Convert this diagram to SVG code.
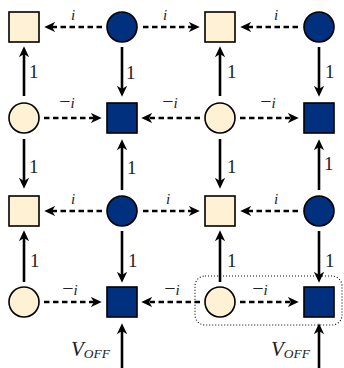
<svg xmlns="http://www.w3.org/2000/svg" width="344" height="368" viewBox="0 0 344 368">
<defs>
<marker id="ah" markerUnits="userSpaceOnUse" markerWidth="11" markerHeight="11" viewBox="0 0 10 10" refX="3" refY="5" orient="auto">
<path d="M0,0.3 L10,5 L0,9.7 L3,5 z" fill="#000"/>
</marker>
<style>
.lt{fill:#FEF1D4;stroke:#000;stroke-width:1.6}
.dk{fill:#00307E;stroke:#000;stroke-width:1.6}
.s{stroke:#000;stroke-width:2.6;fill:none;marker-end:url(#ah)}
.d{stroke:#000;stroke-width:2.3;fill:none;stroke-dasharray:5.5 3.5;marker-end:url(#ah)}
.one{font-family:"Liberation Serif",serif;font-size:19px;fill:#222}
.lab{font-family:"Liberation Serif",serif;font-size:15px;font-style:italic;fill:#222;text-anchor:middle}
.m{font-size:20px;font-style:normal}
.v{font-family:"Liberation Serif",serif;font-style:italic;fill:#222}
</style>
</defs>
<rect x="195" y="276" width="147" height="49" rx="10" fill="none" stroke="#000" stroke-width="1.1" stroke-dasharray="1 2"/>
<g id="connectors">
<line class="d" x1="102" y1="27" x2="52" y2="27"/>
<line class="d" x1="143" y1="27" x2="192" y2="27"/>
<line class="d" x1="298" y1="27" x2="248" y2="27"/>
<line class="d" x1="44" y1="118" x2="94" y2="118"/>
<line class="d" x1="200" y1="118" x2="149" y2="118"/>
<line class="d" x1="240" y1="118" x2="291" y2="118"/>
<line class="d" x1="102" y1="211" x2="52" y2="211"/>
<line class="d" x1="143" y1="211" x2="192" y2="211"/>
<line class="d" x1="298" y1="211" x2="248" y2="211"/>
<line class="d" x1="44" y1="302" x2="94" y2="302"/>
<line class="d" x1="200" y1="302" x2="149" y2="302"/>
<line class="d" x1="240" y1="302" x2="291" y2="302"/>
<line class="s" x1="24" y1="96" x2="24" y2="54"/>
<line class="s" x1="24" y1="139" x2="24" y2="181"/>
<line class="s" x1="24" y1="282" x2="24" y2="238"/>
<line class="s" x1="122" y1="47" x2="122" y2="89"/>
<line class="s" x1="122" y1="190" x2="122" y2="147"/>
<line class="s" x1="122" y1="231" x2="122" y2="275"/>
<line class="s" x1="220" y1="96" x2="220" y2="54"/>
<line class="s" x1="220" y1="139" x2="220" y2="181"/>
<line class="s" x1="220" y1="282" x2="220" y2="238"/>
<line class="s" x1="319" y1="47" x2="319" y2="89"/>
<line class="s" x1="319" y1="190" x2="319" y2="147"/>
<line class="s" x1="319" y1="231" x2="319" y2="275"/>
<line class="s" x1="122" y1="368" x2="122" y2="331"/>
<line class="s" x1="319" y1="368" x2="319" y2="331"/>
<text class="lab" x="73" y="20">i</text>
<text class="lab" x="165" y="20">i</text>
<text class="lab" x="276" y="20">i</text>
<text class="lab" x="67" y="108"><tspan class="m">−</tspan>i</text>
<text class="lab" x="170" y="108"><tspan class="m">−</tspan>i</text>
<text class="lab" x="268" y="108"><tspan class="m">−</tspan>i</text>
<text class="lab" x="73" y="204">i</text>
<text class="lab" x="168" y="204">i</text>
<text class="lab" x="276" y="204">i</text>
<text class="lab" x="70" y="295"><tspan class="m">−</tspan>i</text>
<text class="lab" x="172" y="295"><tspan class="m">−</tspan>i</text>
<text class="lab" x="260" y="295"><tspan class="m">−</tspan>i</text>
<text class="one" x="29" y="78">1</text>
<text class="one" x="29" y="173">1</text>
<text class="one" x="30" y="267">1</text>
<text class="one" x="126" y="79">1</text>
<text class="one" x="127" y="174">1</text>
<text class="one" x="128" y="267">1</text>
<text class="one" x="227" y="78">1</text>
<text class="one" x="227" y="173">1</text>
<text class="one" x="227" y="267">1</text>
<text class="one" x="325" y="78">1</text>
<text class="one" x="324" y="170">1</text>
<text class="one" x="325" y="267">1</text>
<text class="v" x="71" y="356" font-size="21">V<tspan font-size="13.5" dy="2">OFF</tspan></text>
<text class="v" x="271" y="356" font-size="21">V<tspan font-size="13.5" dy="2">OFF</tspan></text>
</g>
<g id="n11"><rect class="lt" x="9" y="12" width="30" height="30"/></g>
<g id="n12"><circle class="dk" cx="122" cy="27" r="15"/></g>
<g id="n13"><rect class="lt" x="205" y="12" width="30" height="30"/></g>
<g id="n14"><circle class="dk" cx="319" cy="27" r="15"/></g>
<g id="n21"><circle class="lt" cx="24" cy="118" r="15"/></g>
<g id="n22"><rect class="dk" x="107" y="103" width="30" height="30"/></g>
<g id="n23"><circle class="lt" cx="220" cy="118" r="15"/></g>
<g id="n24"><rect class="dk" x="304" y="103" width="30" height="30"/></g>
<g id="n31"><rect class="lt" x="9" y="196" width="30" height="30"/></g>
<g id="n32"><circle class="dk" cx="122" cy="211" r="15"/></g>
<g id="n33"><rect class="lt" x="205" y="196" width="30" height="30"/></g>
<g id="n34"><circle class="dk" cx="319" cy="211" r="15"/></g>
<g id="n41"><circle class="lt" cx="24" cy="302" r="15"/></g>
<g id="n42"><rect class="dk" x="107" y="287" width="30" height="30"/></g>
<g id="n43"><circle class="lt" cx="220" cy="302" r="15"/></g>
<g id="n44"><rect class="dk" x="304" y="287" width="30" height="30"/></g>
</svg>
